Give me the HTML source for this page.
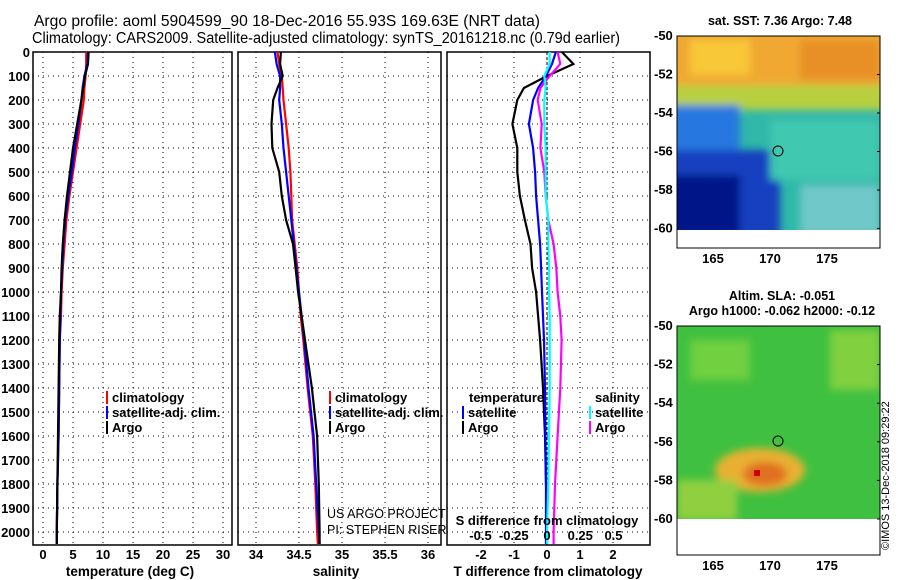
<!DOCTYPE html>
<html><head><meta charset="utf-8"><style>
body{margin:0;background:#fff;}
svg{display:block;font-family:"Liberation Sans",sans-serif;}
.t{font-weight:bold;font-size:12.5px;}
.ttl{font-size:15.5px;}
.tk{font-weight:bold;font-size:13px;}
.lg{font-weight:bold;font-size:13px;}
.ax{font-weight:bold;font-size:13.5px;}
</style></head><body>
<svg id="c" width="900" height="580" viewBox="0 0 900 580">
<defs><filter id="bl"><feGaussianBlur stdDeviation="4"/></filter>
<clipPath id="m1c"><rect x="677" y="36" width="203" height="194"/></clipPath>
<clipPath id="m2c"><rect x="677" y="326" width="203" height="193"/></clipPath></defs>
<text x="287" y="26" text-anchor="middle" class="ttl" textLength="506" lengthAdjust="spacingAndGlyphs">Argo profile: aoml 5904599_90 18-Dec-2016 55.93S 169.63E (NRT data)</text>
<text x="326" y="43" text-anchor="middle" class="ttl" textLength="588" lengthAdjust="spacingAndGlyphs">Climatology: CARS2009. Satellite-adjusted climatology: synTS_20161218.nc (0.79d earlier)</text>
<g id="plots"></g>
<g>
<text x="780" y="25" text-anchor="middle" class="t">sat. SST: 7.36 Argo: 7.48</text>
<g clip-path="url(#m1c)">
<rect x="677" y="36" width="203" height="194" fill="#30b8a8"/>
<g filter="url(#bl)">
<rect x="670" y="30" width="220" height="70" fill="#f0a830"/>
<rect x="690" y="40" width="60" height="35" fill="#f8c838"/>
<rect x="800" y="40" width="80" height="40" fill="#e89028"/>
<rect x="670" y="85" width="220" height="25" fill="#b8d040"/>
<rect x="670" y="105" width="70" height="50" fill="#2878e0"/>
<rect x="670" y="150" width="110" height="90" fill="#1840c0"/>
<rect x="670" y="175" width="70" height="60" fill="#001888"/>
<rect x="770" y="120" width="110" height="60" fill="#40c8b0"/>
<rect x="800" y="185" width="80" height="50" fill="#70c8c8"/>
</g></g>
<rect x="677" y="230" width="203" height="18" fill="#fff"/>
<circle cx="778" cy="151" r="5" fill="none" stroke="#000" stroke-width="1"/>
<rect x="677" y="36" width="203" height="212" fill="none" stroke="#000"/>
</g>
<g>
<text x="782" y="300" text-anchor="middle" class="t">Altim. SLA: -0.051</text>
<text x="782" y="315" text-anchor="middle" class="t">Argo h1000: -0.062 h2000: -0.12</text>
<g clip-path="url(#m2c)">
<rect x="677" y="326" width="203" height="193" fill="#40c040"/>
<g filter="url(#bl)">
<rect x="690" y="340" width="60" height="40" fill="#70d040"/>
<rect x="830" y="330" width="50" height="60" fill="#80d040"/>
<ellipse cx="760" cy="470" rx="45" ry="22" fill="#e8b030"/>
<ellipse cx="765" cy="474" rx="22" ry="12" fill="#e07020"/>
<rect x="677" y="480" width="60" height="40" fill="#90d040"/>
</g>
<rect x="754" y="470" width="6" height="6" fill="#d00000"/>
</g>
<circle cx="778" cy="441" r="5" fill="none" stroke="#000"/>
<rect x="677" y="326" width="203" height="229" fill="none" stroke="#000"/>
</g>
<g id="maptk"></g>
<text transform="translate(889,550) rotate(-90)" style="font-size:11px">©IMOS 13-Dec-2018 09:29:22</text>
</svg>
<script>
const NS="http://www.w3.org/2000/svg";
const depths=[0,50,100,150,200,300,400,500,600,700,800,900,1000,1100,1200,1400,1600,1800,2000,2050];
const tempClim=[7.2,7.2,7.1,6.9,6.8,6.2,5.6,5.0,4.4,3.9,3.6,3.3,3.1,3.0,2.8,2.7,2.6,2.4,2.3,2.3];
const tempSat=[7.5,7.4,6.9,6.6,6.4,5.9,5.3,4.8,4.2,3.7,3.4,3.2,3.0,2.9,2.8,2.7,2.6,2.4,2.3,2.3];
const tempArgo=[7.6,7.5,7.0,6.7,6.4,5.7,5.0,4.5,4.0,3.6,3.3,3.1,3.0,2.8,2.7,2.6,2.5,2.4,2.3,2.3];
const salClim=[34.25,34.27,34.3,34.31,34.32,34.35,34.38,34.4,34.41,34.42,34.45,34.48,34.5,34.52,34.55,34.6,34.66,34.69,34.71,34.72];
const salSat=[34.22,34.24,34.28,34.28,34.27,34.3,34.32,34.35,34.38,34.41,34.44,34.47,34.5,34.53,34.56,34.61,34.67,34.7,34.73,34.74];
const salArgo=[34.29,34.28,34.31,34.25,34.2,34.18,34.19,34.27,34.3,34.35,34.43,34.46,34.49,34.53,34.57,34.65,34.71,34.73,34.74,34.74];
const dTArgo=[0.45,0.8,0.0,-0.7,-0.9,-1.05,-0.9,-0.9,-0.82,-0.67,-0.5,-0.45,-0.33,-0.27,-0.21,-0.12,-0.06,-0.03,0.0,0.0];
const dTSat=[0.27,0.15,-0.03,-0.27,-0.42,-0.55,-0.42,-0.36,-0.33,-0.27,-0.21,-0.18,-0.15,-0.12,-0.09,-0.06,-0.05,-0.03,-0.03,-0.03];
const dSArgo=[0.08,0.1,0.02,-0.05,-0.07,-0.04,-0.05,-0.02,-0.01,0.01,0.05,0.07,0.08,0.1,0.11,0.1,0.08,0.06,0.05,0.05];
const dSSat=[0.02,0.02,-0.02,-0.01,-0.02,-0.02,-0.01,-0.01,-0.01,0.01,0.01,0.015,0.015,0.02,0.02,0.02,0.015,0.01,0.0,0.0];
const depthTicks=[0,100,200,300,400,500,600,700,800,900,1000,1100,1200,1300,1400,1500,1600,1700,1800,1900,2000];
const tempTicks=[0,5,10,15,20,25,30];
const salTicks=[34,34.5,35,35.5,36];
const dTTicks=[-2,-1,0,1,2];
const dSTicks=[-0.5,-0.25,0,0.25,0.5];
const dSTickLabels=["-0.5","-0.25","0","0.25","0.5"];
const Y=d=>52+d*0.24;
const g=document.getElementById('plots');
function el(t,a,p){const e=document.createElementNS(NS,t);for(const k in a)e.setAttribute(k,a[k]);(p||g).appendChild(e);return e;}
const panels=[
 {name:'temperature-panel',x0:33,x1:232,sx:v=>43+v*6,ticks:tempTicks,lbl:'temperature (deg C)',lx:130},
 {name:'salinity-panel',x0:238,x1:441,sx:v=>256+(v-34)*86,ticks:salTicks,lbl:'salinity',lx:336},
 {name:'difference-panel',x0:447,x1:650,sx:v=>547+v*33,ticks:dTTicks,lbl:'T difference from climatology',lx:548}];
const sxS=v=>547+v*133;
panels.forEach((p,i)=>{
 const pg=el('g',{});
 
 
 depthTicks.forEach(d=>{
  const ln=el('line',{x1:p.x0,x2:p.x1,y1:Y(d),y2:Y(d),stroke:'#000','stroke-width':1,'stroke-dasharray':'1,4'},pg);
  
  
  if(i===0){const t=el('text',{x:30,y:Y(d)+5,'text-anchor':'end','class':'tk'},pg);t.textContent=d;
   
   }
 });
 p.ticks.forEach(v=>{
  const x=p.sx(v);
  const ln=el('line',{x1:x,x2:x,y1:52,y2:545,stroke:'#000','stroke-width':1,'stroke-dasharray':(i===2&&v===0)?'3,2':'1,4'},pg);
  
  
  const t=el('text',{x:x,y:559,'text-anchor':'middle','class':'tk'},pg);t.textContent=v;
  
  
 });
 const r=el('rect',{x:p.x0,y:52,width:p.x1-p.x0,height:493,fill:'none',stroke:'#000','stroke-width':1.5},pg);
 
 
 const t=el('text',{x:p.lx,y:576,'text-anchor':'middle','class':'ax'},pg);t.textContent=p.lbl;
 
 
});
function line(vals,sx,col,name){
 const pts=vals.map((v,i)=>sx(v).toFixed(1)+','+Y(depths[i]).toFixed(1)).join(' ');
 const l=el('polyline',{points:pts,fill:'none',stroke:col,'stroke-width':2.2});
 
 
}
line(tempClim,panels[0].sx,'#f00','temp-climatology-line');
line(tempSat,panels[0].sx,'#00f','temp-satellite-line');
line(tempArgo,panels[0].sx,'#000','temp-argo-line');
line(salClim,panels[1].sx,'#f00','sal-climatology-line');
line(salSat,panels[1].sx,'#00f','sal-satellite-line');
line(salArgo,panels[1].sx,'#000','sal-argo-line');
line(dTArgo,panels[2].sx,'#000','tdiff-argo-line');
line(dTSat,panels[2].sx,'#00f','tdiff-satellite-line');
line(dSArgo,sxS,'#f0f','sdiff-argo-line');
line(dSSat,sxS,'#0ff','sdiff-satellite-line');
function leg(x,y,col,txt,name){
 const lg=el('g',{});
 
 
 if(col) el('rect',{x:x,y:y-11,width:2,height:13,fill:col},lg);
 const t=el('text',{x:x+(col?6:0),y:y,'class':'lg'},lg);t.textContent=txt;
}
leg(106,402,'#f00','climatology','legend-climatology');
leg(106,417,'#00f','satellite-adj. clim.','legend-satellite');
leg(106,432,'#000','Argo','legend-argo');
leg(329,402,'#f00','climatology','legend-climatology-2');
leg(329,417,'#00f','satellite-adj. clim.','legend-satellite-2');
leg(329,432,'#000','Argo','legend-argo-2');
leg(469,402,null,'temperature','legend-temperature-heading');
leg(462,417,'#00f','satellite','legend-t-satellite');
leg(462,432,'#000','Argo','legend-t-argo');
leg(595,402,null,'salinity','legend-salinity-heading');
leg(589,417,'#0ff','satellite','legend-s-satellite');
leg(589,432,'#f0f','Argo','legend-s-argo');
const st=el('text',{x:547,y:525,'text-anchor':'middle','class':'lg'});st.textContent='S difference from climatology';


dSTicks.forEach((v,i)=>{const t=el('text',{x:sxS(v),y:540,'text-anchor':'middle','class':'lg'});t.textContent=dSTickLabels[i];
 
 });
const c1=el('text',{x:327,y:518,style:'font-size:12.5px'});c1.textContent='US ARGO PROJECT';


const c2=el('text',{x:327,y:534,style:'font-size:12.5px'});c2.textContent='PI: STEPHEN RISER';


const mg=document.getElementById('maptk');
const latTicks=[-50,-52,-54,-56,-58,-60];
const lonTicks=[165,170,175];
[[36,228.5,248],[326,519,555]].forEach(([top,bot,frameBot],mi)=>{
 latTicks.forEach(v=>{const y=top+(-50-v)*(bot-top)/10;
  const t=el('text',{x:654,y:y+4,'class':'tk'},mg);t.textContent=v;
  
  
  el('line',{x1:877,x2:880,y1:y,y2:y,stroke:'#000'},mg);});
 lonTicks.forEach(v=>{const x=713+(v-165)*11.4;
  const t=el('text',{x:x,y:frameBot+15,'text-anchor':'middle','class':'tk'},mg);t.textContent=v;
  
  });
});
</script>
</body></html>
